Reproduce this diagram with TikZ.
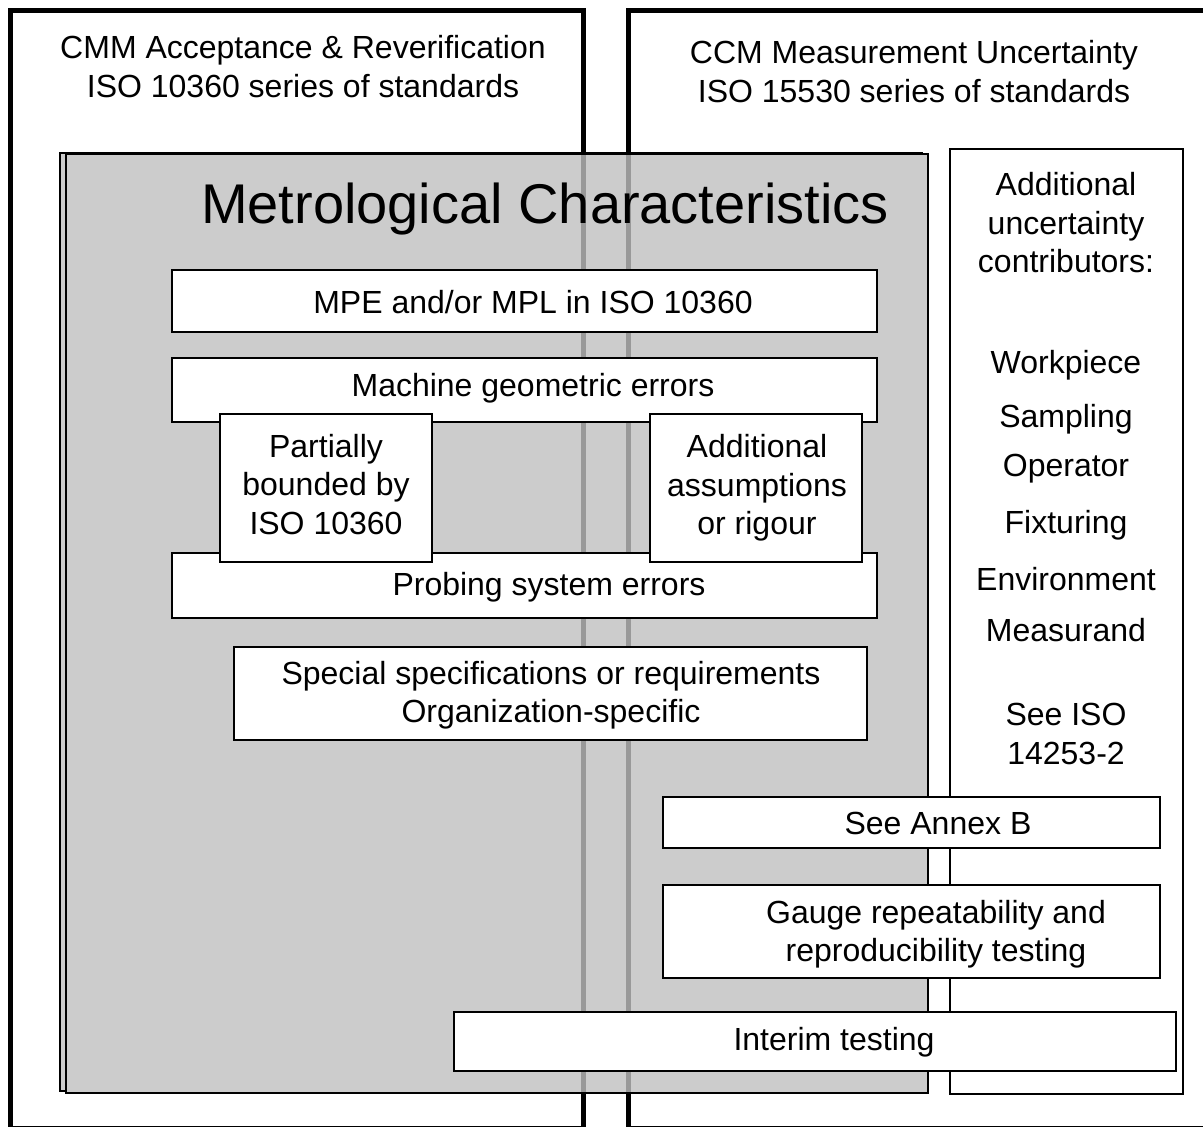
\documentclass[tikz,border=0pt]{standalone}
\usepackage{fontspec}
\setmainfont{Liberation Sans}
\begin{document}
\begin{tikzpicture}[x=1pt,y=-1pt,
  outerline/.style={draw=black,line width=5pt},
  box/.style={draw=black,fill=white,line width=2pt,inner sep=0pt,rectangle},
  txt/.style={align=center,inner sep=0pt,font=\fontsize{32}{38.5}\selectfont},
  gline/.style={draw=black!40,line width=5pt}]
\useasboundingbox (0,0) rectangle (1203,1127);
\clip (0,0) rectangle (1203,1127);
% outer frames
\draw[outerline] (10,10) rectangle (583,1128);
\draw[outerline] (628,10) rectangle (1215,1128);
% gray box with shadow
\draw[line width=2pt,fill=black!20] (59.5,152.5) rectangle (922,1091);
\draw[line width=2pt,fill=black!20] (66,154) rectangle (928,1093);
% gray continuation lines
\coordinate (g1t) at (583,155);
\coordinate (g1b) at (583,1092);
\coordinate (g2t) at (628,155);
\coordinate (g2b) at (628,1092);
\draw[gline] (g1t) -- (g1b);
\draw[gline] (g2t) -- (g2b);
% headings
\node[txt] (cmm) at (303,66.5) {CMM Acceptance \& Reverification\\ISO 10360 series of standards};
\node[txt] (ccm) at (914,71.5) {CCM Measurement Uncertainty\\ISO 15530 series of standards};
\node[txt,font=\fontsize{56}{60}\selectfont] (title) at (545,209) {Metrological Characteristics};
% right column
\node[box,minimum width=233,minimum height=945] (contrib) at (1066.5,621.5) {};
\node[txt] (contribt) at (1066,223) {Additional\\uncertainty\\contributors:};
\node[txt] (w1) at (1066,365) {Workpiece};
\node[txt] (w2) at (1066,419) {Sampling};
\node[txt] (w3) at (1066,469) {Operator};
\node[txt] (w4) at (1066,525) {Fixturing};
\node[txt] (w5) at (1066,579) {Environment};
\node[txt] (w6) at (1066,630) {Measurand};
\node[txt] (seeiso) at (1066,734) {See ISO\\14253-2};
% stacked boxes
\node[box,minimum width=705,minimum height=62] (mpe) at (524.5,301) {};
\node[txt] (mpet) at (533,302) {MPE and/or MPL in ISO 10360};
\node[box,minimum width=705,minimum height=64] (geo) at (524.5,390) {};
\node[txt] (geot) at (533,388.5) {Machine geometric errors};
\node[box,minimum width=705,minimum height=65] (prob) at (524.5,585.5) {};
\node[txt] (probt) at (549,587.5) {Probing system errors};
\node[box,minimum width=212,minimum height=148] (part) at (326,488) {};
\node[txt] (partt) at (326,484.5) {Partially\\bounded by\\ISO 10360};
\node[box,minimum width=212,minimum height=148] (addas) at (756,488) {};
\node[txt] (addast) at (757,488) {Additional\\assumptions\\or rigour};
\node[box,minimum width=633,minimum height=93] (spec) at (550.5,693.5) {};
\node[txt] (spect) at (551,695) {Special specifications or requirements\\Organization-specific};
\node[box,minimum width=497,minimum height=51] (annex) at (911.5,822.5) {};
\node[txt] (annext) at (938,823) {See Annex B};
\node[box,minimum width=497,minimum height=93] (gauge) at (911.5,931.5) {};
\node[txt] (gauget) at (936,934) {Gauge repeatability and\\reproducibility testing};
\node[box,minimum width=722,minimum height=59] (interim) at (815,1041.5) {};
\node[txt] (interimt) at (834,1042) {Interim testing};
\end{tikzpicture}
\end{document}
